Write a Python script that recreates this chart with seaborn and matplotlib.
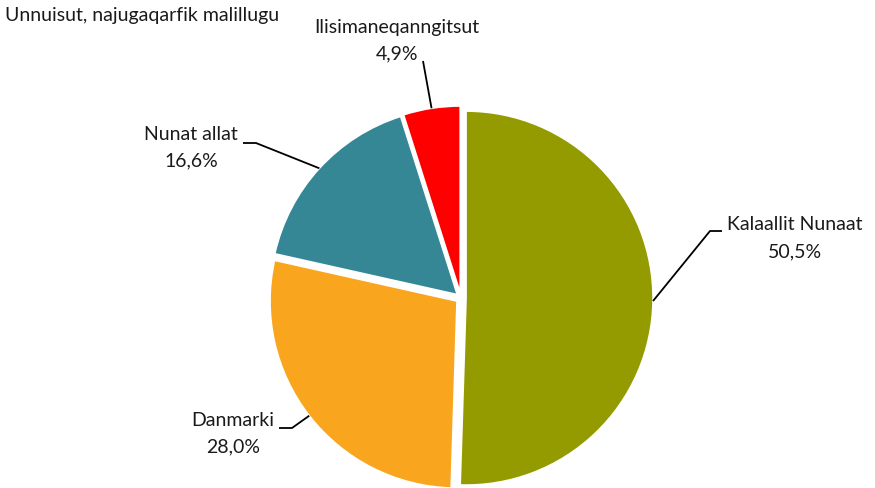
import numpy as np
import matplotlib
matplotlib.use("Agg")
import matplotlib.pyplot as plt
import seaborn as sns

# ---- data ----
categories = ["Kalaallit Nunaat", "Danmarki", "Nunat allat", "Ilisimaneqanngitsut"]
values = [50.5, 28.0, 16.6, 4.9]
value_labels = ["50,5%", "28,0%", "16,6%", "4,9%"]
colors = ["#949B00", "#F9A51E", "#358796", "#FF0000"]
title = "Unnuisut, najugaqarfik malillugu"

sns.set_theme(style="white")
plt.rcParams["font.family"] = ["Lato", "DejaVu Sans"]

W, H, DPI = 875, 488, 100
fig = plt.figure(figsize=(W / DPI, H / DPI), dpi=DPI)
ax = fig.add_axes([0, 0, 1, 1])

R_PX = 187.0
CX, CY = 461.0, 298.0
EXPLODE = 0.027


def px(x, y):
    """pixel (from top-left) -> data coords"""
    return (x - CX) / R_PX, (CY - y) / R_PX


wedges, _ = ax.pie(values, colors=colors, startangle=90, counterclock=False,
                   explode=[EXPLODE] * len(values), radius=1.0,
                   wedgeprops=dict(edgecolor="white", linewidth=1.2))

ax.set_xlim(-CX / R_PX, (W - CX) / R_PX)
ax.set_ylim(-(H - CY) / R_PX, CY / R_PX)
ax.set_aspect("auto")
ax.axis("off")

# label layout (pixel positions): text center, line y's, elbow points
layout = [
    dict(tx=795, ty1=225, ty2=252, elbow=[(722, 231), (710, 231)]),
    dict(tx=233, ty1=421, ty2=447, elbow=[(279, 428), (292, 428)]),
    dict(tx=191, ty1=135, ty2=161, elbow=[(243, 143), (256, 143)]),
    dict(tx=397, ty1=28, ty2=54, elbow=[(423, 61)]),
]

fs = 14
for w, cat, vl, lay in zip(wedges, categories, value_labels, layout):
    ang = np.deg2rad((w.theta1 + w.theta2) / 2)
    r = 1.0 + EXPLODE
    sx, sy = r * np.cos(ang), r * np.sin(ang)
    pts = [px(*p) for p in lay["elbow"]] + [(sx, sy)]
    xs, ys = zip(*pts)
    ax.plot(xs, ys, color="black", lw=1.3, solid_capstyle="butt")
    x1, y1 = px(lay["tx"], lay["ty1"])
    x2, y2 = px(lay["tx"], lay["ty2"])
    ax.text(x1, y1, cat, ha="center", va="center", fontsize=fs, color="#1a1a1a")
    ax.text(x2, y2, vl, ha="center", va="center", fontsize=fs, color="#1a1a1a")

tx, ty = px(5, 16)
ax.text(tx, ty, title, ha="left", va="center", fontsize=fs, color="#1a1a1a")

fig.savefig("out.png", dpi=DPI, facecolor="white")
